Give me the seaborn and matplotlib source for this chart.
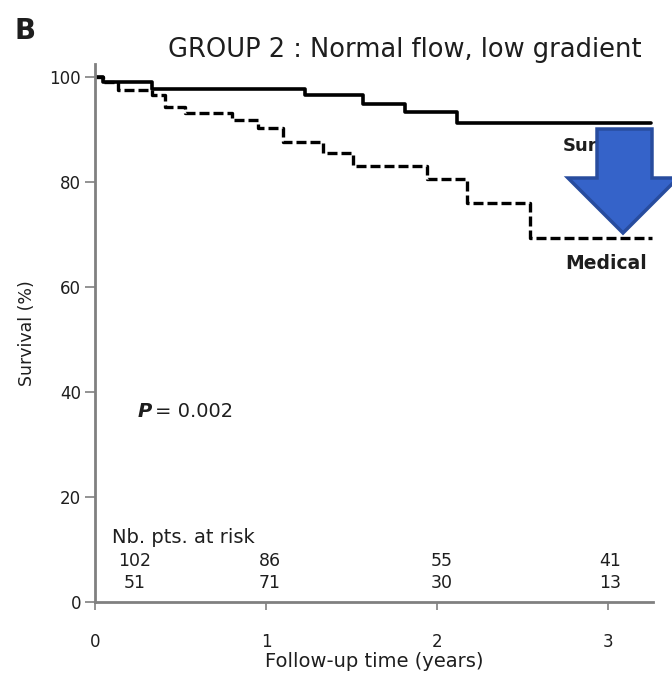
import numpy as np
import pandas as pd
import matplotlib
matplotlib.use('Agg')
import matplotlib.pyplot as plt
from matplotlib.patches import Polygon
import seaborn as sns

# Kaplan-Meier steps (years, % survival)
surg_t = [0, 0.047, 0.333, 1.228, 1.567, 1.813, 2.117, 3.246]
surg_s = [100, 99.0, 97.7, 96.6, 94.9, 93.3, 91.2, 91.2]
med_t = [0, 0.047, 0.135, 0.333, 0.409, 0.526, 0.801, 0.953, 1.099, 1.333,
         1.509, 1.942, 2.175, 2.544, 3.257]
med_s = [100, 99.0, 97.5, 96.6, 94.3, 93.1, 91.8, 90.4, 87.6, 85.5,
         83.0, 80.6, 76.0, 69.3, 69.3]

risk_t = [0.234, 1.023, 2.023, 3.01]
risk_surg = ['102', '86', '55', '41']
risk_med = ['51', '71', '30', '13']

x_ticks = [0, 1, 2, 3]
y_ticks = [0, 20, 40, 60, 80, 100]

sns.set_style('white')
plt.rcParams['font.family'] = ['DejaVu Sans']
ink = '#1e1e1e'
axis_grey = '#808080'

fig = plt.figure(figsize=(6.72, 6.84), dpi=100)
ax = fig.add_axes([95/672, 1-602/684, 558/672, (602-64)/684])

df_s = pd.DataFrame({'t': surg_t, 's': surg_s})
df_m = pd.DataFrame({'t': med_t, 's': med_s})
sns.lineplot(data=df_s, x='t', y='s', ax=ax, color='black', lw=2.6,
             drawstyle='steps-post', estimator=None)
sns.lineplot(data=df_m, x='t', y='s', ax=ax, color='black', lw=2.4,
             drawstyle='steps-post', estimator=None, linestyle=(0, (3, 1.2)))

ax.set_xlim(0, 3.26)
ax.set_ylim(0, 102.5)
ax.set_xticks(x_ticks)
ax.set_yticks(y_ticks)
sns.despine(ax=ax)
for sp in ['left', 'bottom']:
    ax.spines[sp].set_color(axis_grey)
    ax.spines[sp].set_linewidth(2)
ax.tick_params(axis='y', direction='out', length=7, width=1.2, color=axis_grey,
               pad=3, labelsize=12, labelcolor=ink, left=True)
ax.tick_params(axis='x', direction='out', length=6, width=1.2, color=axis_grey,
               pad=16, labelsize=12, labelcolor=ink, bottom=True)
ax.set_xlabel('Follow-up time (years)', fontsize=14, color=ink, labelpad=1)
ax.set_ylabel('Survival (%)', fontsize=12.5, color=ink, labelpad=10)

# numbers at risk
ax.text(0.1, 12.2, 'Nb. pts. at risk', fontsize=14, color=ink, va='center')
for t, a, b in zip(risk_t, risk_surg, risk_med):
    ax.text(t, 7.8, a, fontsize=12.5, color=ink, ha='center', va='center')
    ax.text(t, 3.6, b, fontsize=12.5, color=ink, ha='center', va='center')

ax.text(0.25, 36.2, 'P', fontsize=14, color=ink, va='center',
        fontstyle='italic', fontweight='bold')
ax.text(0.35, 36.2, '= 0.002', fontsize=14, color=ink, va='center')

ax.text(2.73, 86.8, 'Surgical', fontsize=13, color=ink, va='center',
        fontweight='bold')
ax.text(2.75, 64.4, 'Medical', fontsize=13.5, color=ink, va='center',
        fontweight='bold')

fig.text(0.603, 1-50/684, 'GROUP 2 : Normal flow, low gradient',
         fontsize=18.5, color=ink, ha='center', va='center')
fig.text(0.037, 1-31/684, 'B', fontsize=20, fontweight='bold', color=ink,
         ha='center', va='center')

# blue down arrow overlay
arrow_px = [(597, 129), (652, 129), (652, 178), (678, 178), (623, 233),
            (568, 178), (597, 178)]
arrow = Polygon([(x/672, 1-y/684) for x, y in arrow_px], closed=True,
                transform=fig.transFigure, facecolor='#3563c9',
                edgecolor='#284c9e', lw=2.5, zorder=10, clip_on=False)
fig.patches.append(arrow)

fig.savefig('out.png', dpi=100)
